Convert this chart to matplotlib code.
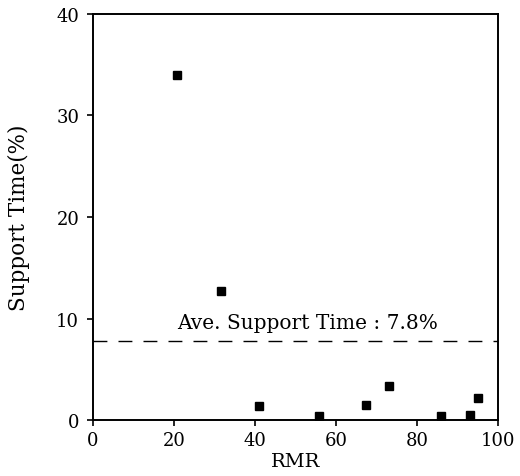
import matplotlib
matplotlib.use("Agg")
import matplotlib.pyplot as plt

rmr = [20.8, 31.7, 41.0, 55.7, 67.3, 73.0, 86.0, 93.0, 95.0]
support_time = [34.0, 12.7, 1.4, 0.4, 1.5, 3.4, 0.4, 0.5, 2.2]
average = 7.8
x_ticks = [0, 20, 40, 60, 80, 100]
y_ticks = [0, 10, 20, 30, 40]

plt.rcParams['font.family'] = ['DejaVu Serif']

fig = plt.figure(figsize=(5.2, 4.77), dpi=100)
ax = fig.add_axes([0.179, 0.117, 0.779, 0.852])

ax.plot(rmr, support_time, linestyle='none', marker='s', markersize=5.5, color='black')
ax.plot([0, 100], [average, average], linestyle=(0, (10, 8)), color='black', linewidth=1.0)
ax.text(20.8, average + 1.3, 'Ave. Support Time : 7.8%', fontsize=14.5, color='black')

ax.set_xlim(0, 100)
ax.set_ylim(0, 40)
ax.set_xticks(x_ticks)
ax.set_yticks(y_ticks)
ax.tick_params(direction='out', length=4, width=1.2, labelsize=13)
ax.tick_params(axis='y', pad=6)
ax.tick_params(axis='x', pad=4)
for s in ax.spines.values():
    s.set_linewidth(1.4)

ax.set_xlabel('RMR', fontsize=14, labelpad=2)
ax.set_ylabel('Support Time(%)', fontsize=15.5, labelpad=19)

fig.savefig('out.png', dpi=100)
